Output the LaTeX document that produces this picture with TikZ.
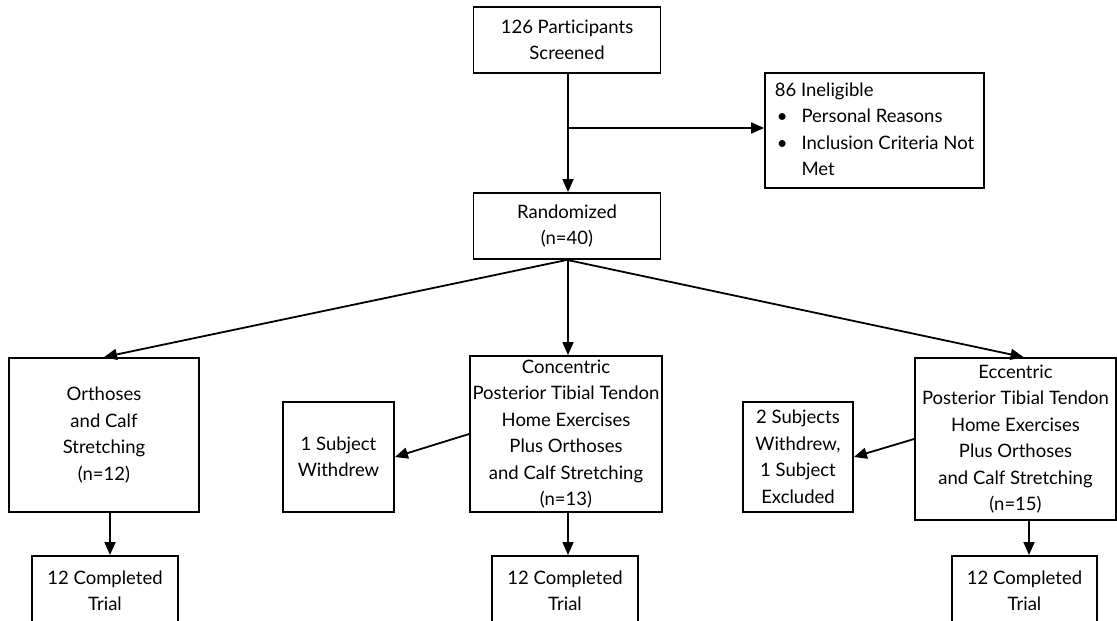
\documentclass[tikz,border=0pt]{standalone}
\usepackage{fontspec}
\setmainfont{Lato}[Ligatures={NoCommon}]
\usetikzlibrary{arrows.meta}
\begin{document}
\begin{tikzpicture}[x=1pt,y=-1pt,
  box/.style={draw,line width=1.8pt,inner sep=0pt,align=center,font=\fontsize{18.5}{26.5}\selectfont},
  arr/.style={line width=1.8pt,-{Triangle[length=13pt,width=11pt]}}]
\useasboundingbox (0,0) rectangle (1117,621);
\node[box,minimum width=187pt,minimum height=66pt] (top) at (567,40) {126 Participants\\Screened};
\node[box,minimum width=219pt,minimum height=115pt] (inel) at (874.5,130.5) {%
  \begin{tabular}{@{}l@{\hspace{14pt}}l@{}}
  \multicolumn{2}{@{}l@{}}{86 Ineligible}\\
  \hspace{2pt}\textbullet & Personal Reasons\\
  \hspace{2pt}\textbullet & Inclusion Criteria Not\\
  & Met
  \end{tabular}};
\node[box,minimum width=187pt,minimum height=66pt] (rand) at (567,226) {Randomized\\(n=40)};
\node[box,minimum width=190pt,minimum height=154pt] (orth) at (104,435) {Orthoses\\and Calf\\Stretching\\(n=12)};
\node[box,minimum width=111pt,minimum height=110pt] (w1) at (338.5,457) {1 Subject\\Withdrew};
\node[box,minimum width=192pt,minimum height=156pt] (conc) at (566,434) {Concentric\\Posterior Tibial Tendon\\Home Exercises\\Plus Orthoses\\and Calf Stretching\\(n=13)};
\node[box,minimum width=110pt,minimum height=110pt] (w2) at (798,457) {2 Subjects\\Withdrew,\\1 Subject\\Excluded};
\node[box,minimum width=201pt,minimum height=162pt] (ecc) at (1015.5,439) {Eccentric\\Posterior Tibial Tendon\\Home Exercises\\Plus Orthoses\\and Calf Stretching\\(n=15)};
\node[box,minimum width=146pt,minimum height=70pt,anchor=north] (c1) at (105,555) {12 Completed\\Trial};
\node[box,minimum width=146pt,minimum height=70pt,anchor=north] (c2) at (565,555) {12 Completed\\Trial};
\node[box,minimum width=145pt,minimum height=70pt,anchor=north] (c3) at (1024.5,555) {12 Completed\\Trial};
\draw[arr] (top.south -| 568,0) -- (rand.north -| 568,0);
\draw[arr] (568,128) -- (inel.west |- 0,128);
\draw[arr] (rand.south) -- (orth.north);
\draw[arr] (rand.south -| 568,0) -- (conc.north -| 568,0);
\draw[arr] (rand.south) -- ([xshift=8pt]ecc.north);
\draw[arr] (conc.west) -- (w1.east);
\draw[arr] (ecc.west) -- (w2.east);
\draw[arr] (orth.south -| 110,0) -- (c1.north -| 110,0);
\draw[arr] (conc.south -| 568,0) -- (c2.north -| 568,0);
\draw[arr] (ecc.south -| 1029,0) -- (c3.north -| 1029,0);
\end{tikzpicture}
\end{document}
